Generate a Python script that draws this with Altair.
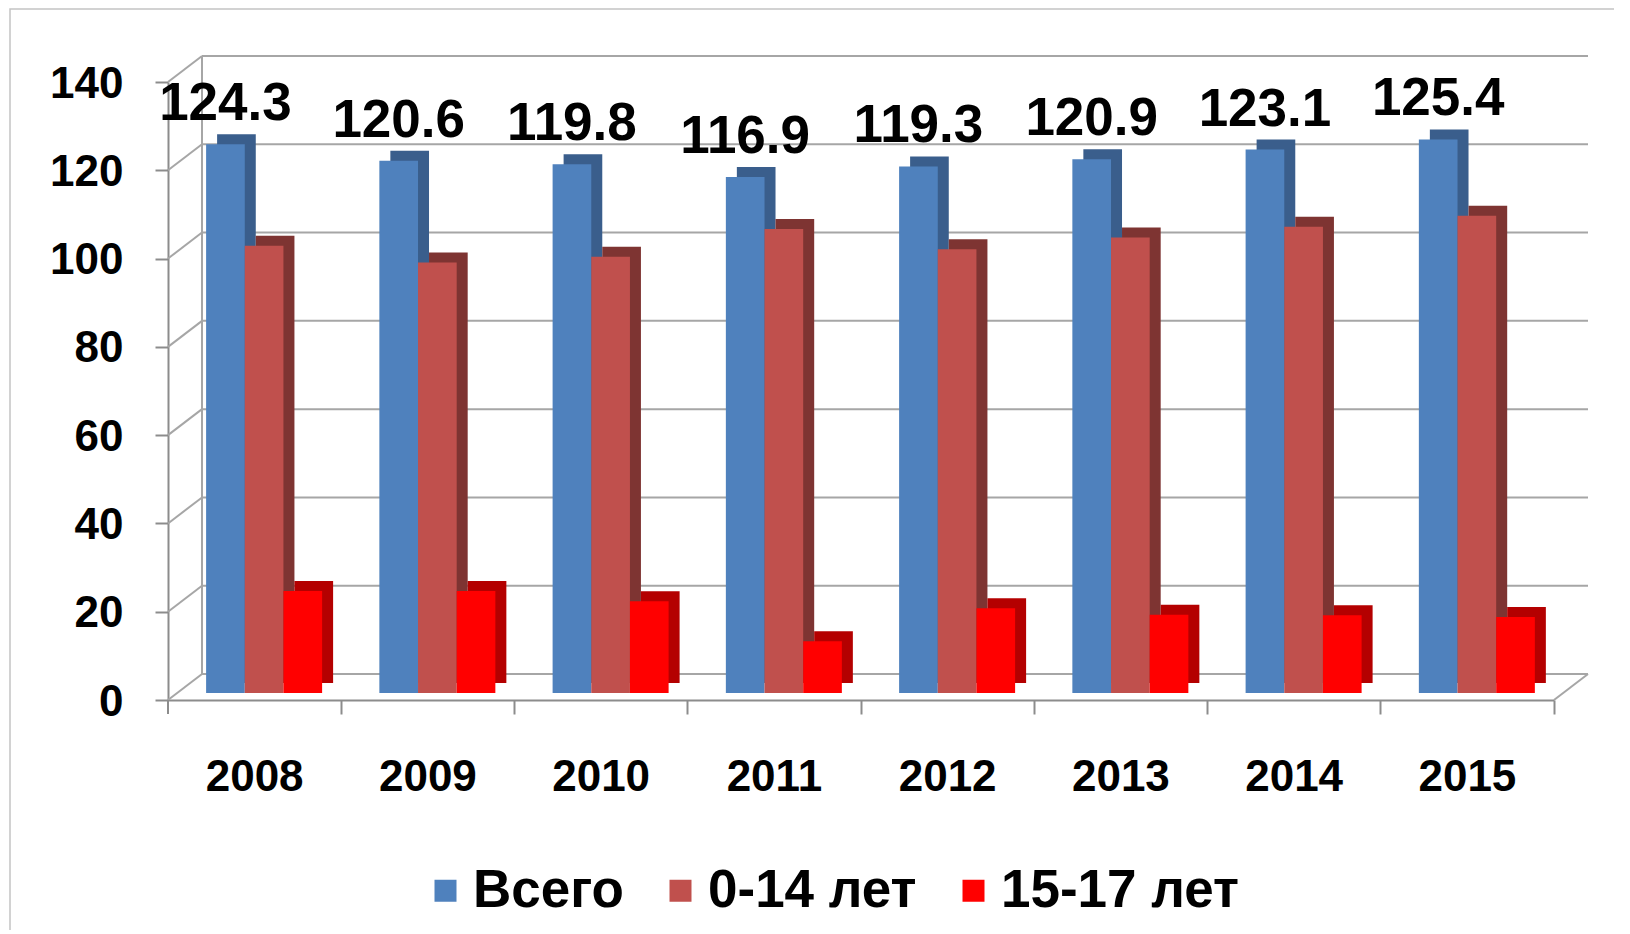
import altair as alt
import pandas as pd

# ---- data ----
years = ["2008", "2009", "2010", "2011", "2012", "2013", "2014", "2015"]
series = ["Всего", "0-14 лет", "15-17 лет"]
total = [124.3, 120.6, 119.8, 116.9, 119.3, 120.9, 123.1, 125.4]
age_0_14 = [101.3, 97.5, 98.8, 105.1, 100.5, 103.2, 105.6, 108.1]
age_15_17 = [23.1, 23.1, 20.8, 11.7, 19.2, 17.7, 17.6, 17.2]
y_ticks = [0, 20, 40, 60, 80, 100, 120, 140]

front_colors = ["#4F81BD", "#C0504D", "#FF0000"]
side_colors = ["#3A5E8C", "#7E3432", "#B40000"]

rows = []
for i, yr in enumerate(years):
    for s, vals in zip(series, [total, age_0_14, age_15_17]):
        rows.append({"year": yr, "series": s, "value": vals[i]})
df = pd.DataFrame(rows)
ticks_df = pd.DataFrame({"v": y_ticks})
one = pd.DataFrame({"a": [0]})

# ---- layout / style ----
W, H = 1386, 618
DX, DY = 34, 26          # depth of the back wall
BX, BY = 11, 10          # depth of each bar
SX, SY = 9, 7            # shift of the bar row inside the floor
GROUP = 116              # width of one group of three bars
FONT = "Liberation Sans"
GRID = "#a6a6a6"
AXC = "#8c8c8c"
P_INNER = 0.336

y_scale = alt.Scale(domain=[0, 140], nice=False, zero=True)
x_scale = alt.Scale(domain=years, paddingInner=P_INNER, paddingOuter=P_INNER / 2)
tick_band = 1 + P_INNER / 2 / (1 - P_INNER)   # ticks on the category boundaries

x_axis = alt.Axis(
    title=None, labelAngle=0, labelFont=FONT, labelFontSize=44, labelFontWeight="bold",
    labelColor="black", labelPadding=41, tickSize=14, tickColor=AXC, tickWidth=2,
    domainColor=AXC, domainWidth=2, bandPosition=tick_band, grid=False,
)
y_axis = alt.Axis(
    title=None, values=y_ticks, labelFont=FONT, labelFontSize=44, labelFontWeight="bold",
    labelColor="black", labelPadding=32, labelOffset=2, tickSize=13, tickColor=AXC, tickWidth=2,
    domainColor=AXC, domainWidth=2, grid=False,
)


def off_scale(dx):
    return alt.Scale(domain=series, range=[dx, dx + GROUP], paddingInner=0, paddingOuter=0)


frame = alt.Chart(one).mark_rect(fillOpacity=0, stroke="#c4c4c4", strokeWidth=1.5).encode(
    x=alt.value(-158), x2=alt.value(1454), y=alt.value(-73), y2=alt.value(900)
)

grid = alt.Chart(ticks_df).mark_rule(color=GRID, strokeWidth=2, yOffset=-DY).encode(
    y=alt.Y("v:Q", scale=y_scale, axis=y_axis),
    x=alt.value(DX), x2=alt.value(W + DX),
)

wall = alt.Chart(ticks_df).mark_rule(color=GRID, strokeWidth=2, y2Offset=-DY).encode(
    y=alt.Y("v:Q", scale=y_scale, axis=y_axis),
    y2=alt.Y2("v:Q"),
    x=alt.value(0), x2=alt.value(DX),
)

wall_edge = alt.Chart(one).mark_rule(color=GRID, strokeWidth=2, yOffset=-DY, y2Offset=-DY).encode(
    y=alt.Y(datum=140, scale=y_scale, axis=y_axis), y2=alt.Y2(datum=0), x=alt.value(DX)
)

floor_edge = alt.Chart(one).mark_rule(color=GRID, strokeWidth=2, y2Offset=-DY).encode(
    y=alt.Y(datum=0, scale=y_scale, axis=y_axis), y2=alt.Y2(datum=0),
    x=alt.value(W), x2=alt.value(W + DX),
)

first_tick = alt.Chart(one).mark_rule(color=AXC, strokeWidth=2, y2Offset=14).encode(
    y=alt.Y(datum=0, scale=y_scale, axis=y_axis), y2=alt.Y2(datum=0), x=alt.value(0)
)

back = alt.Chart(df).mark_bar(yOffset=-(SY + BY), y2Offset=-(SY + BY)).encode(
    x=alt.X("year:N", scale=x_scale, axis=x_axis),
    xOffset=alt.XOffset("series:N", scale=off_scale(SX + BX)),
    y=alt.Y("value:Q", scale=y_scale, axis=y_axis),
    color=alt.Color("series:N", scale=alt.Scale(domain=series, range=side_colors), legend=None),
)

front = alt.Chart(df).mark_bar(yOffset=-SY, y2Offset=-SY).encode(
    x=alt.X("year:N", scale=x_scale, axis=x_axis),
    xOffset=alt.XOffset("series:N", scale=off_scale(SX)),
    y=alt.Y("value:Q", scale=y_scale, axis=y_axis),
    color=alt.Color(
        "series:N",
        scale=alt.Scale(domain=series, range=front_colors),
        legend=alt.Legend(
            title=None, orient="none", legendX=251, legendY=782, direction="horizontal",
            symbolType="square", symbolSize=484, symbolStrokeWidth=0, labelFont=FONT,
            labelFontSize=53, labelFontWeight="bold", labelColor="black", labelOffset=1,
            columnPadding=30, labelLimit=400,
        ),
    ),
)

labels = alt.Chart(df).transform_filter(alt.datum.series == "Всего").mark_text(
    font=FONT, fontSize=53, fontWeight="bold", color="black", baseline="alphabetic",
    dx=GROUP / 6, dy=-(SY + 24)
).encode(
    x=alt.X("year:N", scale=x_scale, axis=x_axis),
    xOffset=alt.XOffset("series:N", scale=off_scale(SX)),
    y=alt.Y("value:Q", scale=y_scale, axis=y_axis),
    text=alt.Text("value:Q", format=".1f"),
)

chart = (
    alt.layer(frame, grid, wall, wall_edge, floor_edge, first_tick, back, front, labels)
    .resolve_scale(xOffset="independent", color="independent")
    .properties(
        width=W, height=H,
        padding={"left": 160, "top": 74, "right": 60, "bottom": 230},
        autosize=alt.AutoSizeParams(type="none"),
        background="white",
    )
    .configure_view(stroke=None)
)

chart.save("out.html", embed_options={"renderer": "svg", "actions": False})
